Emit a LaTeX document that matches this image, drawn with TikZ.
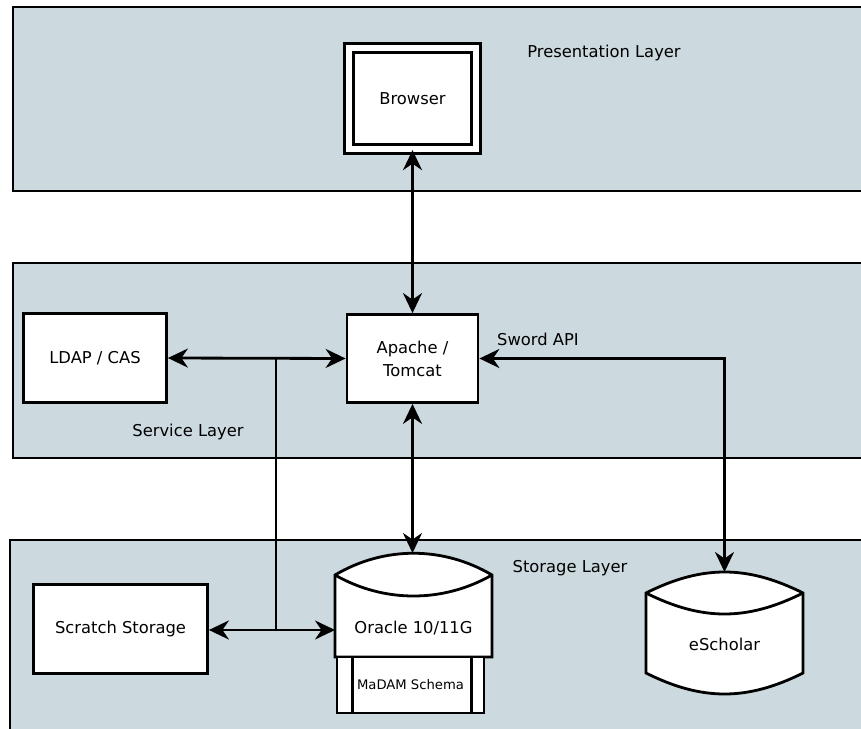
\documentclass[tikz,border=0pt]{standalone}
\usepackage{fontspec}
\setmainfont{DejaVu Sans}
\usepackage{xcolor}
\usetikzlibrary{arrows.meta}
\definecolor{layerfill}{RGB}{204,217,223}

\begin{document}
\begin{tikzpicture}[x=0.02cm,y=-0.02cm,
    font=\fontsize{9.3}{11}\selectfont,
    box/.style={draw,fill=white,line width=1.6pt,inner sep=0pt,align=center},
    thickline/.style={line width=1.6pt},
    link/.style={line width=1.6pt,{Stealth[length=0.4cm,width=0.38cm]}-{Stealth[length=0.4cm,width=0.38cm]}}]
    \useasboundingbox (0,0) rectangle (861,729);
    \begin{scope}[thickline]
      \fill[layerfill] (13,7) rectangle (861,191);
      \draw (861,7) -- (13,7) -- (13,191) -- (861,191);
      \fill[layerfill] (13,263) rectangle (861,458);
      \draw (861,263) -- (13,263) -- (13,458) -- (861,458);
      \fill[layerfill] (10,540) rectangle (861,729);
      \draw (861,540) -- (10,540) -- (10,729);
    \end{scope}
    \node (presentation) at (604,53) {Presentation Layer};
    \node (service) at (188,432) {Service Layer};
    \node (storage) at (570,568) {Storage Layer};
    \node (sword) at (538,339) {Sword API};
    \node[box,double=white,double distance=0.12cm,minimum width=2.53cm,minimum height=2.01cm] (browser) at (412.5,98.5) {Browser};
    \node[box,minimum width=2.86cm,minimum height=1.78cm] (ldap) at (95,358) {LDAP / CAS};
    \node[box,minimum width=2.62cm,minimum height=1.76cm,font=\fontsize{9.3}{13}\selectfont] (apache) at (412.5,358.5) {Apache /\\Tomcat};
    \node[box,minimum width=3.48cm,minimum height=1.78cm] (scratch) at (120.5,629) {Scratch Storage};
    \begin{scope}[thickline]
      \draw[fill=white] (335,575) .. controls (384,546) and (443,546) .. (492,575) -- (492,657) -- (335,657) -- cycle;
      \draw (335,575) .. controls (384,603) and (443,603) .. (492,575);
      \draw[fill=white] (646,593) .. controls (702,565) and (747,565) .. (803,593) -- (803,673) .. controls (747,701) and (702,701) .. (646,673) -- cycle;
      \draw (646,593) .. controls (702,621) and (747,621) .. (803,593);
    \end{scope}
    \node (oracle) at (413.5,628) {Oracle 10/11G};
    \node (escholar) at (724.5,644) {eScholar};
    \node[box,minimum width=2.94cm,minimum height=1.12cm,font=\fontsize{7.5}{9}\selectfont] (madam) at (410.5,685) {MaDAM Schema};
    \draw[thickline] ([xshift=0.34cm]madam.north west) -- ([xshift=0.34cm]madam.south west);
    \draw[thickline] ([xshift=-0.28cm]madam.north east) -- ([xshift=-0.28cm]madam.south east);
    \coordinate (oracletop) at (412.5,553);
    \coordinate (oracleleft) at (335,630);
    \coordinate (escholartop) at (724.5,572);
    \coordinate (jtop) at (276,358);
    \coordinate (jbot) at (276,630);
    \draw[link] (browser.south) -- (apache.north);
    \draw[link] (apache.south) -- (oracletop);
    \draw[link] (ldap.east) -- (apache.west);
    \draw[link] (apache.east) -| (escholartop);
    \draw[thickline] (jtop) -- (jbot);
    \draw[link] (scratch.east |- jbot) -- (oracleleft);
  \end{tikzpicture}
\end{document}
